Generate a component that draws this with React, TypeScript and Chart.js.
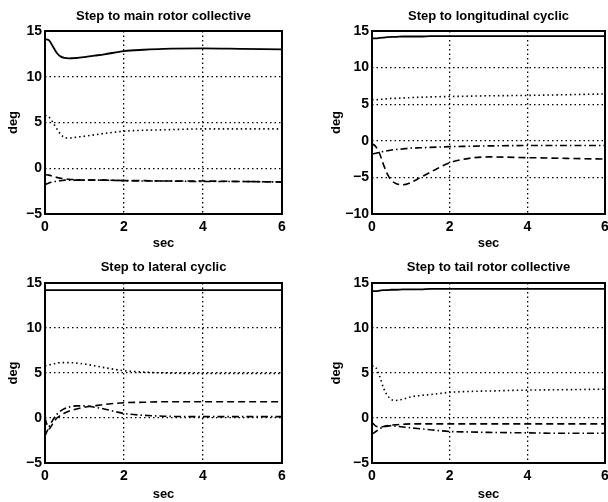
import React, { useEffect, useRef } from "react";
import { Chart, registerables } from "chart.js";

Chart.register(...registerables);

// ---------- data ----------
const timeSec = [0, 0.1, 0.2, 0.3, 0.4, 0.5, 0.6, 0.8, 1.0, 1.25, 1.5, 2.0, 2.5, 3.0, 4.0, 5.0, 6.0];

// Step to main rotor collective
const mainSolid = [14.1, 14.0, 13.3, 12.6, 12.2, 12.05, 12.0, 12.05, 12.15, 12.3, 12.45, 12.8, 12.95, 13.05, 13.1, 13.05, 13.0];
const mainDotted = [5.8, 5.6, 5.0, 4.3, 3.7, 3.35, 3.3, 3.4, 3.5, 3.65, 3.8, 4.05, 4.15, 4.2, 4.3, 4.3, 4.3];
const mainDashed = [-0.7, -0.75, -0.9, -1.0, -1.1, -1.15, -1.2, -1.25, -1.3, -1.3, -1.3, -1.35, -1.35, -1.4, -1.4, -1.45, -1.5];
const mainDashDot = [-1.8, -1.6, -1.5, -1.4, -1.35, -1.3, -1.3, -1.3, -1.3, -1.3, -1.3, -1.35, -1.4, -1.4, -1.45, -1.45, -1.5];

// Step to longitudinal cyclic
const lonSolid = [14.0, 14.0, 14.05, 14.1, 14.15, 14.2, 14.2, 14.25, 14.25, 14.25, 14.3, 14.3, 14.3, 14.3, 14.3, 14.3, 14.3];
const lonDotted = [5.6, 5.6, 5.65, 5.7, 5.75, 5.8, 5.8, 5.85, 5.9, 5.95, 6.0, 6.05, 6.1, 6.15, 6.2, 6.3, 6.4];
const lonDashed = [-0.4, -0.8, -1.8, -3.3, -4.6, -5.4, -5.8, -6.0, -5.7, -5.0, -4.3, -3.0, -2.4, -2.2, -2.3, -2.4, -2.5];
const lonDashDot = [-1.8, -1.7, -1.55, -1.45, -1.35, -1.25, -1.2, -1.1, -1.0, -0.95, -0.9, -0.8, -0.75, -0.7, -0.65, -0.65, -0.65];

// Step to lateral cyclic
const latSolid = [14.2, 14.2, 14.2, 14.2, 14.2, 14.2, 14.2, 14.2, 14.2, 14.2, 14.2, 14.2, 14.2, 14.2, 14.2, 14.2, 14.2];
const latDotted = [5.8, 5.9, 6.0, 6.1, 6.15, 6.15, 6.15, 6.1, 6.0, 5.8, 5.6, 5.25, 5.1, 5.0, 4.95, 4.95, 4.95];
const latDashed = [0.0, -1.2, -0.6, 0.0, 0.3, 0.55, 0.75, 1.0, 1.2, 1.35, 1.5, 1.7, 1.75, 1.8, 1.8, 1.8, 1.8];
const latDashDot = [-2.0, -1.0, -0.2, 0.4, 0.8, 1.05, 1.2, 1.35, 1.35, 1.2, 1.0, 0.5, 0.3, 0.2, 0.15, 0.15, 0.15];

// Step to tail rotor collective
const tailSolid = [14.1, 14.1, 14.15, 14.2, 14.2, 14.25, 14.25, 14.3, 14.3, 14.3, 14.35, 14.35, 14.35, 14.35, 14.35, 14.35, 14.35];
const tailDotted = [5.8, 5.6, 4.6, 3.3, 2.5, 2.05, 1.95, 2.1, 2.35, 2.5, 2.6, 2.85, 2.95, 3.0, 3.1, 3.15, 3.2];
const tailDashed = [-0.5, -0.9, -1.0, -0.95, -0.85, -0.8, -0.75, -0.7, -0.65, -0.65, -0.65, -0.65, -0.65, -0.65, -0.65, -0.65, -0.65];
const tailDashDot = [-1.8, -1.5, -1.2, -1.0, -0.9, -0.85, -0.9, -1.0, -1.1, -1.2, -1.3, -1.5, -1.55, -1.6, -1.65, -1.7, -1.7];

const xTicks = [0, 2, 4, 6];
const xLabel = "sec";
const yLabel = "deg";

const titles = [
  "Step to main rotor collective",
  "Step to longitudinal cyclic",
  "Step to lateral cyclic",
  "Step to tail rotor collective",
];

const FONT = '"Liberation Sans", Arial, Helvetica, sans-serif';

type PanelSpec = {
  title: string;
  series: number[][];
  yMin: number;
  yMax: number;
  left: number;
  top: number;
  width: number;
  height: number;
  padL: number;
  padR: number;
  padT: number;
  yW: number;
  xH: number;
};

const styles = [
  { dash: [] as number[], width: 1.8 },
  { dash: [1.5, 3], width: 1.6 },
  { dash: [7, 4], width: 1.6 },
  { dash: [7, 3, 1.5, 3], width: 1.6 },
];

function Panel({ spec }: { spec: PanelSpec }) {
  const ref = useRef<HTMLCanvasElement | null>(null);
  useEffect(() => {
    if (!ref.current) return;
    const datasets = spec.series.map((vals, si) => ({
      data: timeSec.map((t, i) => ({ x: t, y: vals[i] })),
      borderColor: "#000",
      borderWidth: styles[si].width,
      borderDash: styles[si].dash,
      pointRadius: 0,
      fill: false,
      cubicInterpolationMode: "monotone" as const,
    }));

    const framePlugin = {
      id: "frame",
      afterDatasetsDraw(chart: any) {
        const { ctx, chartArea } = chart;
        ctx.save();
        ctx.strokeStyle = "#000";
        ctx.lineWidth = 2;
        ctx.setLineDash([]);
        ctx.strokeRect(chartArea.left, chartArea.top, chartArea.right - chartArea.left, chartArea.bottom - chartArea.top);
        ctx.restore();
      },
      afterDraw(chart: any) {
        const { ctx, chartArea } = chart;
        ctx.save();
        ctx.fillStyle = "#000";
        ctx.font = `bold 13px ${FONT}`;
        ctx.textAlign = "center";
        ctx.textBaseline = "alphabetic";
        ctx.fillText(spec.title, (chartArea.left + chartArea.right) / 2, 20);
        ctx.restore();
      },
    };

    const chart = new Chart(ref.current, {
      type: "line",
      data: { datasets },
      options: {
        animation: false,
        responsive: false,
        maintainAspectRatio: false,
        layout: { padding: { left: spec.padL, right: spec.padR, top: spec.padT, bottom: 0 } },
        plugins: { legend: { display: false }, tooltip: { enabled: false }, title: { display: false } },
        scales: {
          x: {
            type: "linear",
            min: 0,
            max: 6,
            afterBuildTicks: (s: any) => {
              s.ticks = xTicks.map((v) => ({ value: v }));
            },
            afterFit: (s: any) => {
              s.height = spec.xH;
            },
            ticks: {
              color: "#000",
              font: { family: FONT, size: 14, weight: "bold" },
              padding: 5,
              maxRotation: 0,
              autoSkip: false,
            },
            grid: { color: "#000", lineWidth: 1.3, drawTicks: false },
            border: { display: false, dash: [1.5, 3] },
            title: {
              display: true,
              text: xLabel,
              color: "#000",
              font: { family: FONT, size: 13, weight: "bold" },
              padding: { top: 0, bottom: 0 },
            },
          },
          y: {
            type: "linear",
            min: spec.yMin,
            max: spec.yMax,
            afterFit: (s: any) => {
              s.width = spec.yW;
            },
            ticks: {
              stepSize: 5,
              color: "#000",
              font: { family: FONT, size: 14, weight: "bold" },
              padding: 3,
              callback: (v: any) => (Number(v) < 0 ? "\u2212" + Math.abs(Number(v)) : String(v)),
            },
            grid: { color: "#000", lineWidth: 1.3, drawTicks: false },
            border: { display: false, dash: [1.5, 3] },
            title: {
              display: true,
              text: yLabel,
              color: "#000",
              font: { family: FONT, size: 13, weight: "bold" },
              padding: { top: 6, bottom: 0 },
            },
          },
        },
      },
      plugins: [framePlugin],
    } as any);
    return () => chart.destroy();
  }, [spec]);

  return (
    <canvas
      ref={ref}
      width={spec.width}
      height={spec.height}
      style={{ position: "absolute", left: spec.left, top: spec.top, width: spec.width, height: spec.height }}
    />
  );
}

const panels: PanelSpec[] = [
  { title: titles[0], series: [mainSolid, mainDotted, mainDashed, mainDashDot], yMin: -5, yMax: 15, left: 0, top: 0, width: 304, height: 251, padL: 0, padR: 22, padT: 31, yW: 45, xH: 37 },
  { title: titles[1], series: [lonSolid, lonDotted, lonDashed, lonDashDot], yMin: -10, yMax: 15, left: 304, top: 0, width: 320, height: 251, padL: 19, padR: 19, padT: 31, yW: 49, xH: 37 },
  { title: titles[2], series: [latSolid, latDotted, latDashed, latDashDot], yMin: -5, yMax: 15, left: 0, top: 251, width: 304, height: 251, padL: 0, padR: 22, padT: 32, yW: 45, xH: 39 },
  { title: titles[3], series: [tailSolid, tailDotted, tailDashed, tailDashDot], yMin: -5, yMax: 15, left: 304, top: 251, width: 320, height: 251, padL: 19, padR: 19, padT: 32, yW: 49, xH: 39 },
];

export default function App() {
  return (
    <div style={{ position: "absolute", left: 0, top: 0, width: 608, height: 502, overflow: "hidden", background: "#fff" }}>
      {panels.map((p, i) => (
        <Panel key={i} spec={p} />
      ))}
    </div>
  );
}
